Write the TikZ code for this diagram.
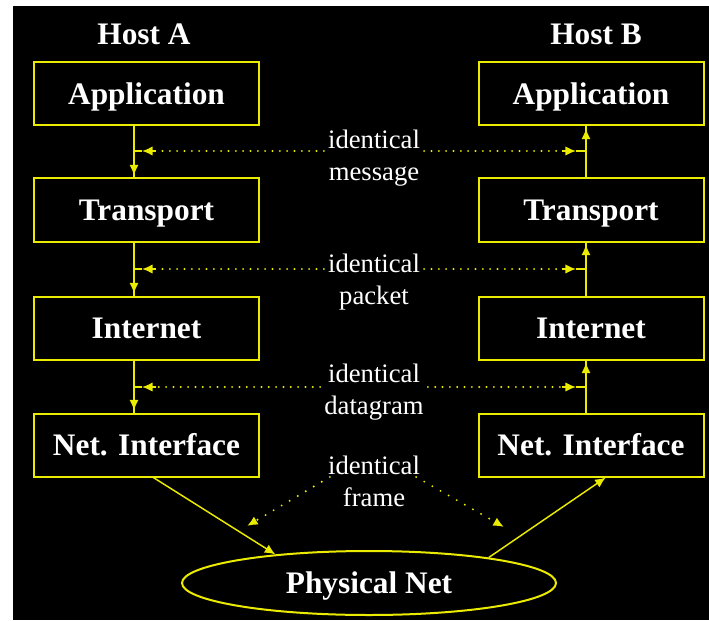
\documentclass[tikz,border=0pt]{standalone}
\usepackage{fontspec}
\setmainfont{Liberation Serif}
\usetikzlibrary{arrows.meta,shapes.geometric,calc}
\definecolor{yl}{RGB}{235,235,0}
\begin{document}
\begin{tikzpicture}[x=0.75pt,y=-0.75pt,
  layerbox/.style={draw=yl,line width=1.5pt,minimum width=168.75pt,minimum height=47.25pt,inner sep=0pt,text=white,text height=16pt,text depth=0pt,font=\fontsize{23.5}{28}\selectfont\bfseries},
  host/.style={text=white,font=\fontsize{23.5}{28}\selectfont\bfseries,inner sep=0pt},
  lbl/.style={text=white,font=\fontsize{20}{24}\selectfont,align=center,inner sep=3pt},
  conn/.style={draw=yl,line width=1.5pt},
  thinconn/.style={draw=yl,line width=1.1pt},
  dotl/.style={draw=yl,line width=1.6pt,line cap=round,dash pattern=on 0pt off 5.5pt},
  dotf/.style={draw=yl,line width=1.6pt,line cap=round,dash pattern=on 0pt off 7pt},
  tip/.style={-{Latex[length=8pt,width=7pt]}},
]
\useasboundingbox (0,0) rectangle (709,620);
\fill[white] (0,0) rectangle (709,620);
\fill[black] (13,6) rectangle (709,620);

% hosts
\node[host] (hA) at (144,34) {Host A};
\node[host] (hB) at (596,34) {Host B};

% layer boxes
\node[layerbox] (A1) at (146.5,94) {Application};
\node[layerbox] (A2) at (146.5,210) {Transport};
\node[layerbox] (A3) at (146.5,328) {Internet};
\node[layerbox] (A4) at (146.5,445) {Net. Interface};
\node[layerbox] (B1) at (591,94) {Application};
\node[layerbox] (B2) at (591,210) {Transport};
\node[layerbox] (B3) at (591,328) {Internet};
\node[layerbox] (B4) at (591,445) {Net. Interface};

% physical net
\node[draw=yl,line width=1.5pt,ellipse,minimum width=280.5pt,minimum height=48pt,inner sep=0pt,text=white,text height=16pt,text depth=0pt,font=\fontsize{23.5}{28}\selectfont\bfseries] (phys) at (369,583) {Physical Net};

% labels
\node[lbl] (msg) at (374,158) {identical\\message};
\node[lbl] (pkt) at (374,282) {identical\\packet};
\node[lbl] (dgm) at (374,392) {identical\\datagram};
\node[lbl] (frm) at (374,481) {identical\\frame};

% helper coordinates
\coordinate (lA) at (134,0);
\coordinate (lB) at (586,0);
\coordinate (rm) at (0,151);
\coordinate (rp) at (0,269);
\coordinate (rd) at (0,387);
\coordinate (fL) at (247,526);
\coordinate (fR) at (504,527);

% host A vertical connectors (down)
\draw[conn] (A1.south -| lA) -- (A2.north -| lA);
\draw[conn,tip] ($(A2.north -| lA)+(0,-16)$) -- ($(A2.north -| lA)+(0,-2)$);
\draw[conn] (A2.south -| lA) -- (A3.north -| lA);
\draw[conn,tip] ($(A3.north -| lA)+(0,-16)$) -- ($(A3.north -| lA)+(0,-2)$);
\draw[conn] (A3.south -| lA) -- (A4.north -| lA);
\draw[conn,tip] ($(A4.north -| lA)+(0,-16)$) -- ($(A4.north -| lA)+(0,-2)$);

% host B vertical connectors (up)
\draw[conn] (B2.north -| lB) -- (B1.south -| lB);
\draw[conn,tip] ($(B1.south -| lB)+(0,16)$) -- ($(B1.south -| lB)+(0,2)$);
\draw[conn] (B3.north -| lB) -- (B2.south -| lB);
\draw[conn,tip] ($(B2.south -| lB)+(0,16)$) -- ($(B2.south -| lB)+(0,2)$);
\draw[conn] (B4.north -| lB) -- (B3.south -| lB);
\draw[conn,tip] ($(B3.south -| lB)+(0,16)$) -- ($(B3.south -| lB)+(0,2)$);

% dotted peer lines
\draw[dotl] (msg.west |- rm) -- ($(lA |- rm)+(22,0)$);
\draw[thinconn,tip] ($(lA |- rm)+(22,0)$) -- ($(lA |- rm)+(8,0)$);
\draw[thinconn] ($(lA |- rm)+(8,0)$) -- (lA |- rm);
\draw[dotl] (msg.east |- rm) -- ($(lB |- rm)+(-24,0)$);
\draw[thinconn,tip] ($(lB |- rm)+(-24,0)$) -- ($(lB |- rm)+(-10,0)$);
\draw[thinconn] ($(lB |- rm)+(-10,0)$) -- (lB |- rm);

\draw[dotl] (pkt.west |- rp) -- ($(lA |- rp)+(22,0)$);
\draw[thinconn,tip] ($(lA |- rp)+(22,0)$) -- ($(lA |- rp)+(8,0)$);
\draw[thinconn] ($(lA |- rp)+(8,0)$) -- (lA |- rp);
\draw[dotl] (pkt.east |- rp) -- ($(lB |- rp)+(-24,0)$);
\draw[thinconn,tip] ($(lB |- rp)+(-24,0)$) -- ($(lB |- rp)+(-10,0)$);
\draw[thinconn] ($(lB |- rp)+(-10,0)$) -- (lB |- rp);

\draw[dotl] (dgm.west |- rd) -- ($(lA |- rd)+(22,0)$);
\draw[thinconn,tip] ($(lA |- rd)+(22,0)$) -- ($(lA |- rd)+(8,0)$);
\draw[thinconn] ($(lA |- rd)+(8,0)$) -- (lA |- rd);
\draw[dotl] (dgm.east |- rd) -- ($(lB |- rd)+(-24,0)$);
\draw[thinconn,tip] ($(lB |- rd)+(-24,0)$) -- ($(lB |- rd)+(-10,0)$);
\draw[thinconn] ($(lB |- rd)+(-10,0)$) -- (lB |- rd);

% frame level
\draw[thinconn,tip] ($(A4.south west)!0.53!(A4.south east)$) -- (phys.163);
\draw[thinconn,tip] (phys.12) -- ($(B4.south west)!0.565!(B4.south east)$);
\draw[dotf,tip] ($(frm.west)+(6,-4)$) -- (fL);
\draw[dotf,tip] ($(frm.east)+(-8,-4)$) -- (fR);
\end{tikzpicture}
\end{document}
